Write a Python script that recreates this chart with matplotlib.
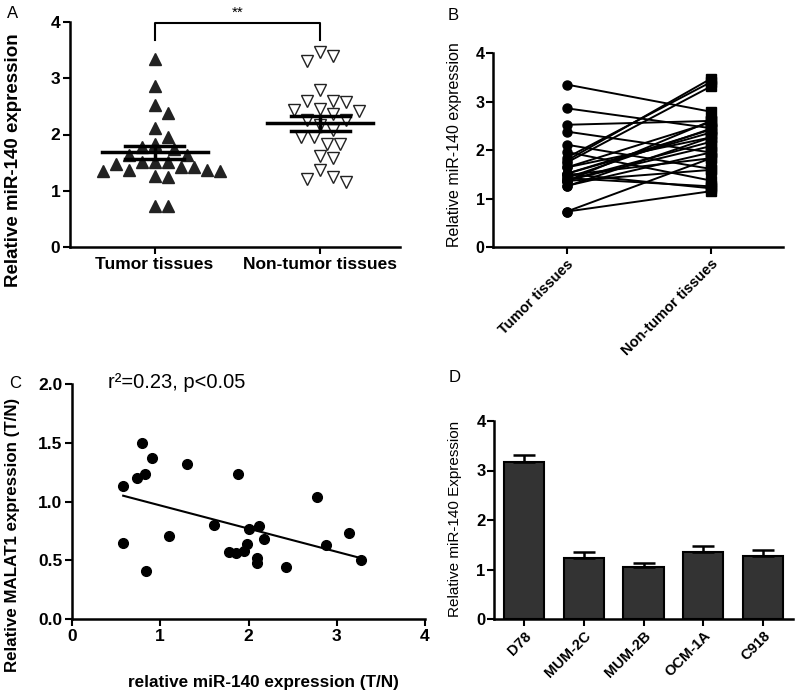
import numpy as np
import matplotlib
matplotlib.use("Agg")
import matplotlib.pyplot as plt

plt.rcParams['font.family'] = ['Liberation Sans', 'DejaVu Sans']

# panel A / B : paired tissue values (same order = same patient)
tumor = [3.35, 2.86, 2.52, 2.38, 2.11, 1.96, 1.84, 1.78, 1.74, 1.64, 1.64, 1.51, 1.51,
         1.51, 1.42, 1.37, 1.36, 1.26, 1.25, 1.36, 1.37, 1.42, 1.48, 0.73, 0.73]
non_tumor = [2.79, 2.45, 2.60, 1.95, 1.61, 1.37, 3.40, 3.47, 3.31, 2.57, 2.26, 2.42, 2.36,
             1.21, 2.44, 2.17, 2.60, 1.95, 2.26, 1.59, 2.08, 1.25, 1.83, 1.15, 1.83]
groups = ["Tumor tissues", "Non-tumor tissues"]

# panel C : correlation
mir_tn = [0.58, 0.58, 0.74, 0.79, 0.83, 0.91, 0.84, 1.10, 1.30, 1.61, 1.78, 1.86, 1.88,
          1.95, 1.98, 2.01, 2.12, 2.17, 2.10, 2.10, 2.43, 2.78, 2.88, 3.14, 3.28]
malat_tn = [1.13, 0.65, 1.20, 1.50, 1.23, 1.37, 0.41, 0.71, 1.32, 0.80, 0.57, 0.56, 1.23,
            0.575, 0.64, 0.765, 0.79, 0.68, 0.52, 0.476, 0.44, 1.04, 0.63, 0.73, 0.50]

# panel D : cell lines
cells = ["D78", "MUM-2C", "MUM-2B", "OCM-1A", "C918"]
cell_mean = [3.17, 1.24, 1.05, 1.36, 1.28]
cell_err = [0.14, 0.12, 0.09, 0.12, 0.11]

W, H = 800, 695
fig = plt.figure(figsize=(W / 100, H / 100), dpi=100)


def box(l, t, r, b):
    return [l / W, 1 - b / H, (r - l) / W, (b - t) / H]


def style(ax, lw=1.8):
    for s in ['top', 'right']:
        ax.spines[s].set_visible(False)
    for s in ['left', 'bottom']:
        ax.spines[s].set_linewidth(lw)
    ax.tick_params(direction='out', length=5, width=1.5, pad=2)


def ylab(ax, text, xpx, left, width, yfrac, **kw):
    ax.set_ylabel(text, **kw)
    ax.yaxis.set_label_coords(-(left - xpx) / width, yfrac)
    ax.yaxis.label.set_va('center')


def swarm(vals, xscale, yscale, d):
    # simple beeswarm: put each point as close to centre as possible without overlap
    placed = []
    offs = np.zeros(len(vals))
    order = np.argsort(vals)[::-1]
    cands = [0]
    for k in range(1, 12):
        cands += [k * d / 2, -k * d / 2]
    for i in order:
        for c in cands:
            ok = True
            for (px, py) in placed:
                if np.hypot(c - px, (vals[i] - py) * yscale) < d:
                    ok = False
                    break
            if ok:
                offs[i] = c
                placed.append((c, vals[i]))
                break
    return offs / xscale


# ---------- A ----------
axA = fig.add_axes(box(70, 22, 400, 247))
style(axA)
xs_px, ys_px = 166, 56.25
for i, (vals, mk, fc) in enumerate([(tumor, '^', '#222222'), (non_tumor, 'v', 'white')]):
    v = np.array(vals)
    off = swarm(v, xs_px, ys_px, 13)
    axA.plot(i + off, v, linestyle='none', marker=mk, ms=8.5, mfc=fc, mec='#222222',
             mew=1.0, clip_on=False, zorder=2)
    m = v.mean()
    sem = v.std(ddof=1) / np.sqrt(len(v))
    axA.plot([i - 0.32, i + 0.32], [m, m], color='black', lw=2.5, zorder=3)
    axA.plot([i - 0.18, i + 0.18], [m + sem, m + sem], color='black', lw=2.5, zorder=3)
    axA.plot([i - 0.18, i + 0.18], [m - sem, m - sem], color='black', lw=2.5, zorder=3)
    axA.plot([i, i], [m - sem, m + sem], color='black', lw=2.5, zorder=3)
axA.plot([0, 0, 1, 1], [3.68, 3.98, 3.98, 3.68], color='black', lw=1.5, clip_on=False)
axA.text(0.5, 4.17, "**", ha='center', va='center', fontsize=11)
axA.set_xlim(-0.51, 1.48)
axA.set_ylim(0, 4)
axA.set_yticks([0, 1, 2, 3, 4])
axA.set_xticks([0, 1])
axA.set_xticklabels(groups)
for t in axA.get_xticklabels() + axA.get_yticklabels():
    t.set_fontweight('bold')
    t.set_fontsize(12.5)
ylab(axA, "Relative miR-140 expression", 14, 70, 330, 0.387, fontsize=13.5, fontweight='bold')

# ---------- B ----------
axB = fig.add_axes(box(493, 53, 783, 247))
style(axB)
for a, b in zip(tumor, non_tumor):
    axB.plot([0, 1], [a, b], color='black', lw=1.4, zorder=2)
axB.plot(np.zeros(len(tumor)), tumor, 'o', color='black', ms=6.5, zorder=3, clip_on=False)
axB.plot(np.ones(len(non_tumor)), non_tumor, 's', color='black', ms=7, zorder=3, clip_on=False)
axB.set_xlim(-0.51, 1.5)
axB.set_ylim(0, 4)
axB.set_yticks([0, 1, 2, 3, 4])
axB.set_xticks([0, 1])
axB.set_xticklabels(groups, rotation=45, ha='right', rotation_mode='anchor')
for t in axB.get_xticklabels():
    t.set_fontweight('bold')
    t.set_fontsize(10.5)
for t in axB.get_yticklabels():
    t.set_fontweight('bold')
    t.set_fontsize(11.5)
axB.tick_params(axis='y', pad=1)
ylab(axB, "Relative miR-140 expression", 455, 493, 290, 0.526, fontsize=11.5)

# ---------- C ----------
axC = fig.add_axes(box(72, 384, 425, 619))
style(axC)
x = np.array(mir_tn)
y = np.array(malat_tn)
axC.plot(x, y, 'o', color='black', ms=7, zorder=3)
k, b0 = np.polyfit(x, y, 1)
xx = np.array([x.min(), x.max()])
axC.plot(xx, k * xx + b0, color='black', lw=1.5)
axC.set_xlim(0, 4)
axC.set_ylim(0, 2.0)
axC.set_xticks([0, 1, 2, 3, 4])
axC.set_yticks([0.0, 0.5, 1.0, 1.5, 2.0])
axC.set_yticklabels(["0.0", "0.5", "1.0", "1.5", "2.0"])
for t in axC.get_xticklabels() + axC.get_yticklabels():
    t.set_fontweight('bold')
    t.set_fontsize(12.5)
ylab(axC, "Relative MALAT1 expression (T/N)", 13, 72, 353, 0.357, fontsize=12.2, fontweight='bold')
axC.set_xlabel("relative miR-140 expression (T/N)", fontsize=12.3, fontweight='bold')
axC.xaxis.set_label_coords((263 - 72) / 353, -(682 - 619) / 235)
axC.xaxis.label.set_va('center')
fig.text(108 / W, 1 - 383 / H, "r\u00b2=0.23, p<0.05", fontsize=14.5, ha='left', va='center')

# ---------- D ----------
axD = fig.add_axes(box(494, 421, 793, 619))
style(axD)
pos = np.arange(len(cells))
axD.bar(pos, cell_mean, width=0.67, color='#333333', edgecolor='black', lw=1.5, zorder=2)
axD.errorbar(pos, cell_mean, yerr=[np.zeros(len(cells)), cell_err], fmt='none',
             ecolor='black', elinewidth=1.8, capsize=8, capthick=1.8, zorder=3)
axD.set_xlim(-0.5, 4.5)
axD.set_ylim(0, 4)
axD.set_yticks([0, 1, 2, 3, 4])
axD.set_xticks(pos)
axD.set_xticklabels(cells, rotation=45, ha='right', rotation_mode='anchor')
for t in axD.get_xticklabels():
    t.set_fontweight('bold')
    t.set_fontsize(10.5)
for t in axD.get_yticklabels():
    t.set_fontweight('bold')
    t.set_fontsize(12)
axD.tick_params(axis='y', pad=1)
ylab(axD, "Relative miR-140 Expression", 455, 494, 299, 0.505, fontsize=11)

# panel letters
for lab, px, py in [("A", 13, 14), ("B", 453, 15), ("C", 15, 383), ("D", 455, 378)]:
    fig.text(px / W, 1 - py / H, lab, fontsize=12, ha='center', va='center')

fig.savefig("out.png", dpi=100)
